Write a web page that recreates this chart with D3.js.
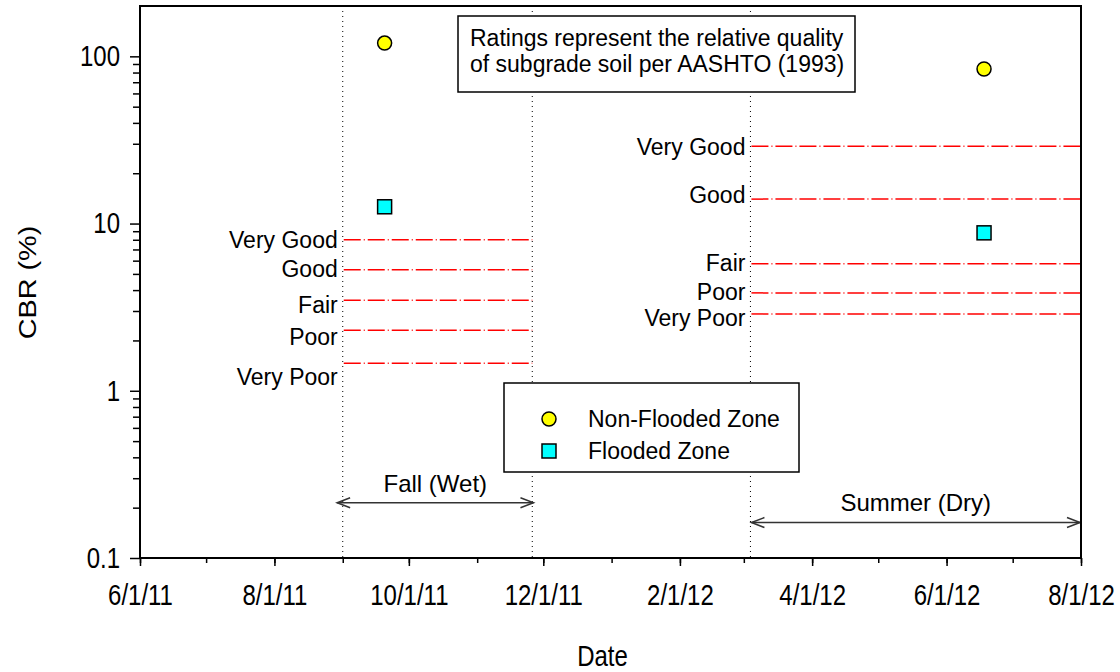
<!DOCTYPE html>
<html>
<head>
<meta charset="utf-8">
<script src="https://cdn.jsdelivr.net/npm/d3@7"></script>
<style>
  body { margin: 0; background: #fff; }
  svg text { font-family: "Liberation Sans", Arial, sans-serif; fill: #000; }
  /* the axis text in the original is drawn taller than it is wide */
  .tall { transform-box: fill-box; transform-origin: center; transform: scaleY(1.2); }
  .tall-rot { transform-box: fill-box; transform-origin: center; transform: rotate(-90deg) scaleX(1.2); }
</style>
</head>
<body>
<div id="chart"></div>
<script>
// data
let samplingDates = ["2011-09-20", "2012-06-18"];
let nonFloodedCbr = [120, 84];
let floodedCbr = [12.6, 8.8];

let ratingNames = ["Very Good", "Good", "Fair", "Poor", "Very Poor"];
let fallRatingCbr = [8.0, 5.3, 3.48, 2.3, 1.46];
let summerRatingCbr = [29, 14, 5.75, 3.85, 2.88];
let fallLabelCbr = [8.0, 5.35, 3.26, 2.1, 1.21];
let summerLabelCbr = [29, 14.9, 5.8, 3.9, 2.72];

let seasonNames = ["Fall (Wet)", "Summer (Dry)"];
let seasonStart = ["2011-09-01", "2012-03-04"];
let seasonEnd = ["2011-11-26", "2012-08-01"];
let arrowStart = ["2011-08-29", "2012-03-04"];
let arrowEnd = ["2011-11-27", "2012-08-01"];
let arrowCbr = [0.214, 0.163];
let seasonLabelCbr = [0.28, 0.214];

let xTicks = ["2011-06-01", "2011-08-01", "2011-10-01", "2011-12-01",
              "2012-02-01", "2012-04-01", "2012-06-01", "2012-08-01"];
let yTicks = [0.1, 1, 10, 100];
let legendNames = ["Non-Flooded Zone", "Flooded Zone"];
let noteLines = ["Ratings represent the relative quality", "of subgrade soil per AASHTO (1993)"];

let parse = d3.timeParse("%Y-%m-%d");

// set the dimensions and margins of the graph
let margin = {top: 6, right: 39, bottom: 114, left: 140},
    width = 1120 - margin.left - margin.right,
    height = 672 - margin.top - margin.bottom;

let svg = d3.select("#chart").append("svg")
    .attr("width", 1120)
    .attr("height", 672)
    .append("g")
    .attr("transform", "translate(" + margin.left + "," + margin.top + ")");

// scales
let x = d3.scaleTime()
    .domain([parse(xTicks[0]), parse(xTicks[xTicks.length - 1])])
    .range([0, width]);
let y = d3.scaleLog()
    .domain([0.1, 200])
    .range([height, 0]);

let defs = svg.append("defs");
["start", "end"].forEach(function(k) {
    defs.append("marker")
        .attr("id", "arrow-" + k)
        .attr("markerUnits", "userSpaceOnUse")
        .attr("viewBox", "-14 -7 28 14")
        .attr("markerWidth", 28)
        .attr("markerHeight", 14)
        .attr("refX", 0).attr("refY", 0)
        .attr("orient", "auto")
        .append("path")
        .attr("d", k == "end" ? "M-13,-5L0,0L-13,5" : "M13,-5L0,0L13,5")
        .attr("fill", "none")
        .attr("stroke", "#333")
        .attr("stroke-width", 1.5);
});

// season boundaries (dotted)
let bounds = [seasonStart[0], seasonEnd[0], seasonStart[1]];
svg.selectAll(".bound")
    .data(bounds)
    .enter().append("line")
    .attr("class", "bound")
    .attr("x1", d => x(parse(d))).attr("x2", d => x(parse(d)))
    .attr("y1", 0).attr("y2", height)
    .attr("stroke", "#000")
    .attr("stroke-width", 1)
    .attr("stroke-dasharray", "1,4");

// rating lines
function ratingLines(values, labels, s, cls) {
    let x0 = x(parse(seasonStart[s])), x1 = x(parse(seasonEnd[s]));
    svg.selectAll("." + cls + "-line")
        .data(values)
        .enter().append("line")
        .attr("class", cls + "-line")
        .attr("x1", x0 + 1).attr("x2", x1)
        .attr("y1", d => y(d)).attr("y2", d => y(d))
        .attr("stroke", "#ff0000")
        .attr("stroke-width", 1.5)
        .attr("stroke-dasharray", "17,3,1,3");
    svg.selectAll("." + cls + "-label")
        .data(labels)
        .enter().append("text")
        .attr("class", cls + "-label")
        .attr("x", x0 - 5)
        .attr("y", d => y(d))
        .attr("dy", "0.36em")
        .attr("text-anchor", "end")
        .style("font-size", "23px")
        .text((d, i) => ratingNames[i]);
}
ratingLines(fallRatingCbr, fallLabelCbr, 0, "fall");
ratingLines(summerRatingCbr, summerLabelCbr, 1, "summer");

// season arrows
seasonNames.forEach(function(name, i) {
    svg.append("line")
        .attr("x1", x(parse(arrowStart[i])) + 1)
        .attr("x2", x(parse(arrowEnd[i])) - 1)
        .attr("y1", y(arrowCbr[i])).attr("y2", y(arrowCbr[i]))
        .attr("stroke", "#333")
        .attr("stroke-width", 1.5)
        .attr("marker-start", "url(#arrow-start)")
        .attr("marker-end", "url(#arrow-end)");
    let mid = new Date((parse(arrowStart[i]).getTime() + parse(arrowEnd[i]).getTime()) / 2);
    svg.append("text")
        .attr("x", x(mid))
        .attr("y", y(seasonLabelCbr[i]))
        .attr("dy", "0.36em")
        .attr("text-anchor", "middle")
        .style("font-size", "24px")
        .text(name);
});

// axes
let xAxis = svg.append("g")
    .attr("transform", "translate(0," + height + ")")
    .call(d3.axisBottom(x)
        .tickValues(xTicks.map(parse))
        .tickFormat(d3.timeFormat("%-m/%-d/%y"))
        .tickSize(8)
        .tickPadding(20));
xAxis.select(".domain").remove();
xAxis.selectAll("line").attr("stroke", "#000").attr("stroke-width", 1.5);
xAxis.selectAll("text").attr("class", "tall").style("font-size", "24px").attr("fill", "#000");

let xMinor = svg.append("g")
    .attr("transform", "translate(0," + height + ")")
    .call(d3.axisBottom(x)
        .ticks(d3.timeMonth.every(1))
        .tickFormat("")
        .tickSize(5));
xMinor.select(".domain").remove();
xMinor.selectAll("line").attr("stroke", "#000").attr("stroke-width", 1.5);

let yAxis = svg.append("g")
    .call(d3.axisLeft(y)
        .tickValues(yTicks)
        .tickFormat(d => d3.format("~g")(d))
        .tickSize(10)
        .tickPadding(10));
yAxis.select(".domain").remove();
yAxis.selectAll("line").attr("stroke", "#000").attr("stroke-width", 1.5);
yAxis.selectAll("text").attr("class", "tall").style("font-size", "24px").attr("fill", "#000");

let minorVals = [];
yTicks.forEach(function(t) {
    for (let k = 2; k <= 9; k++) {
        if (t * k < 200) minorVals.push(t * k);
    }
});
let yMinor = svg.append("g")
    .call(d3.axisLeft(y)
        .tickValues(minorVals)
        .tickFormat("")
        .tickSize(7));
yMinor.select(".domain").remove();
yMinor.selectAll("line").attr("stroke", "#000").attr("stroke-width", 1.5);

// plot frame
svg.append("rect")
    .attr("x", 0).attr("y", 0)
    .attr("width", width).attr("height", height)
    .attr("fill", "none")
    .attr("stroke", "#000")
    .attr("stroke-width", 2);

// data points
let pts = samplingDates.map(function(d, i) {
    return {date: parse(d), dry: nonFloodedCbr[i], wet: floodedCbr[i]};
});
svg.selectAll(".nonflooded")
    .data(pts)
    .enter().append("circle")
    .attr("class", "nonflooded")
    .attr("cx", d => x(d.date))
    .attr("cy", d => y(d.dry))
    .attr("r", 7)
    .attr("fill", "#ffff00")
    .attr("stroke", "#000")
    .attr("stroke-width", 1.5);
svg.selectAll(".flooded")
    .data(pts)
    .enter().append("rect")
    .attr("class", "flooded")
    .attr("x", d => x(d.date) - 7)
    .attr("y", d => y(d.wet) - 7)
    .attr("width", 14).attr("height", 14)
    .attr("fill", "#00ffff")
    .attr("stroke", "#000")
    .attr("stroke-width", 1.5);

// note box
let note = svg.append("g").attr("transform", "translate(318,10)");
note.append("rect")
    .attr("width", 397).attr("height", 76)
    .attr("fill", "#fff")
    .attr("stroke", "#000")
    .attr("stroke-width", 1.5);
note.selectAll("text")
    .data(noteLines)
    .enter().append("text")
    .attr("x", 12)
    .attr("y", (d, i) => 30 + i * 26)
    .style("font-size", "23px")
    .text(d => d);

// legend
let legend = svg.append("g").attr("transform", "translate(364,377)");
legend.append("rect")
    .attr("width", 295).attr("height", 89)
    .attr("fill", "#fff")
    .attr("stroke", "#000")
    .attr("stroke-width", 1.5);
legend.append("circle")
    .attr("cx", 45).attr("cy", 36).attr("r", 7)
    .attr("fill", "#ffff00").attr("stroke", "#000").attr("stroke-width", 1.5);
legend.append("rect")
    .attr("x", 38).attr("y", 61).attr("width", 14).attr("height", 14)
    .attr("fill", "#00ffff").attr("stroke", "#000").attr("stroke-width", 1.5);
legend.selectAll(".legend-text")
    .data(legendNames)
    .enter().append("text")
    .attr("class", "legend-text")
    .attr("x", 84)
    .attr("y", (d, i) => 36 + i * 32)
    .attr("dy", "0.36em")
    .style("font-size", "23px")
    .text(d => d);

// text label for the x axis
svg.append("text")
    .attr("class", "tall")
    .attr("x", width / 2 - 8)
    .attr("y", height + 98)
    .attr("dy", "0.36em")
    .style("text-anchor", "middle")
    .style("font-size", "24px")
    .text("Date");

// text label for the y axis
svg.append("text")
    .attr("class", "tall-rot")
    .attr("x", 28 - margin.left)
    .attr("y", 276)
    .attr("dy", "0.36em")
    .style("text-anchor", "middle")
    .style("font-size", "24px")
    .text("CBR (%)");
</script>
</body>
</html>
